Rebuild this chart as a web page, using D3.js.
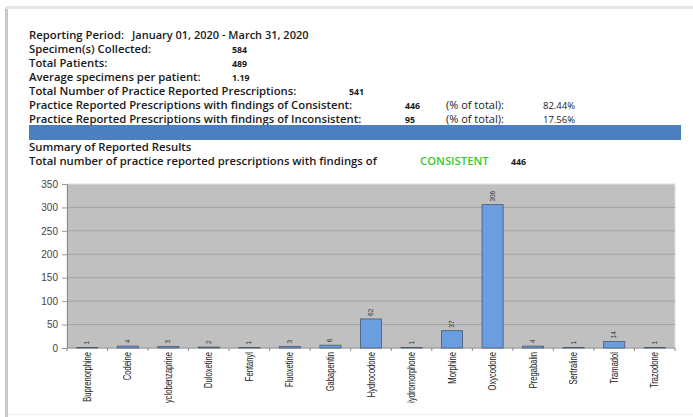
<!DOCTYPE html>
<html>
<head>
<meta charset="utf-8">
<script src="https://cdn.jsdelivr.net/npm/d3@7"></script>
<style>
  body { margin: 0; background: #fff; }
</style>
</head>
<body>
<svg id="chart"></svg>
<script>
const width = 693;
const height = 417;

// header lines
const headerLabels = [
  'Reporting Period:',
  'Specimen(s) Collected:',
  'Total Patients:',
  'Average specimens per patient:',
  'Total Number of Practice Reported Prescriptions:',
  'Practice Reported Prescriptions with findings of Consistent:',
  'Practice Reported Prescriptions with findings of Inconsistent:'
];
const headerValues = ['January 01, 2020 - March 31, 2020', '584', '489', '1.19', '541', '446', '95'];
const pctValues = [null, null, null, null, null, '82.44%', '17.56%'];

const drugs = ['Buprenorphine', 'Codeine', 'Cyclobenzaprine', 'Duloxetine', 'Fentanyl', 'Fluoxetine',
  'Gabapentin', 'Hydrocodone', 'Hydromorphone', 'Morphine', 'Oxycodone', 'Pregabalin',
  'Sertraline', 'Tramadol', 'Trazodone'];
const counts = [1, 4, 3, 2, 1, 3, 6, 62, 1, 37, 306, 4, 1, 14, 1];
const yTicks = [0, 50, 100, 150, 200, 250, 300, 350];

const headFont = '"Open Sans", "Noto Sans", sans-serif';
const chartFont = '"Liberation Sans", Arial, sans-serif';

const svg = d3.select('#chart')
  .attr('width', width)
  .attr('height', height);

// page shadow
svg.append('rect').attr('x', 5).attr('y', 6).attr('width', 3).attr('height', 411).attr('fill', '#c8c8c8');
svg.append('rect').attr('x', 5).attr('y', 6).attr('width', 688).attr('height', 3).attr('fill', '#e6e6e6');
svg.append('rect').attr('x', 8).attr('y', 414).attr('width', 685).attr('height', 1).attr('fill', '#eee');

// header text
const rowY = (i) => 39 + i * 14;
const valX = [132, 232, 232, 232, 349, 405, 405];
const head = svg.append('g')
  .attr('font-family', headFont)
  .attr('font-size', 11.3)
  .attr('fill', '#1a1a1a');
headerLabels.forEach((t, i) => {
  head.append('text').attr('x', 29).attr('y', rowY(i))
    .attr('font-weight', 600)
    .text(t);
  head.append('text').attr('x', valX[i]).attr('y', rowY(i))
    .attr('font-size', i === 0 ? 11 : 8.8)
    .attr('font-weight', i === 0 ? 600 : 700)
    .text(headerValues[i]);
  if (pctValues[i]) {
    head.append('text').attr('x', 446).attr('y', rowY(i)).attr('font-size', 11).text('(% of total):');
    head.append('text').attr('x', 543).attr('y', rowY(i)).attr('font-size', 9.5).text(pctValues[i]);
  }
});

svg.append('rect')
  .attr('x', 29).attr('y', 125).attr('width', 652).attr('height', 15)
  .attr('fill', '#4a80c0');

const summary = svg.append('g')
  .attr('font-family', headFont)
  .attr('font-size', 11.3)
  .attr('font-weight', 600)
  .attr('fill', '#1a1a1a');
summary.append('text').attr('x', 29).attr('y', 151).text('Summary of Reported Results');
summary.append('text').attr('x', 29).attr('y', 165)
  .text('Total number of practice reported prescriptions with findings of');
summary.append('text').attr('x', 420).attr('y', 165).attr('fill', '#33cc33').text('CONSISTENT');
summary.append('text').attr('x', 511).attr('y', 165).attr('font-size', 8.8).attr('font-weight', 700).text(headerValues[5]);

// chart
const plot = { left: 67, right: 675, top: 184, bottom: 348 };
const x = d3.scaleBand().domain(drugs).range([plot.left, plot.right]).paddingInner(0.48).paddingOuter(0.24);
const y = d3.scaleLinear().domain([0, 350]).range([plot.bottom, plot.top]);

svg.append('rect')
  .attr('x', plot.left).attr('y', plot.top)
  .attr('width', plot.right - plot.left).attr('height', plot.bottom - plot.top)
  .attr('fill', '#c0c0c0')
  .attr('stroke', '#e0e0e0');

svg.append('g')
  .selectAll('line')
  .data(yTicks.filter(d => d > 0 && d < 350))
  .enter().append('line')
    .attr('x1', plot.left).attr('x2', plot.right)
    .attr('y1', d => y(d)).attr('y2', d => y(d))
    .attr('stroke', '#a4a4a4');

const yAxis = svg.append('g')
  .attr('transform', `translate(${plot.left},0)`)
  .call(d3.axisLeft(y).tickValues(yTicks).tickSize(5).tickPadding(4));
yAxis.select('.domain').attr('stroke', '#888');
yAxis.selectAll('.tick line').attr('stroke', '#999');
yAxis.selectAll('text')
  .attr('font-family', chartFont)
  .attr('font-size', 10)
  .attr('fill', '#444');

// x axis: ticks between categories
const bounds = d3.range(drugs.length + 1).map(i => plot.left + i * (plot.right - plot.left) / drugs.length);
svg.append('line')
  .attr('x1', plot.left).attr('x2', plot.right)
  .attr('y1', plot.bottom).attr('y2', plot.bottom)
  .attr('stroke', '#888');
svg.append('g').selectAll('line')
  .data(bounds)
  .enter().append('line')
    .attr('x1', d => d).attr('x2', d => d)
    .attr('y1', plot.bottom).attr('y2', plot.bottom + 3)
    .attr('stroke', '#888');

svg.append('defs').append('clipPath').attr('id', 'lab-clip')
  .append('rect').attr('x', 0).attr('y', plot.bottom).attr('width', width).attr('height', 55);

svg.append('g')
  .attr('clip-path', 'url(#lab-clip)')
  .selectAll('text')
  .data(drugs)
  .enter().append('text')
    .attr('transform', d => `translate(${x(d) + x.bandwidth() / 2 + 3.5},${plot.bottom + 4}) rotate(-90) scale(0.76,1)`)
    .attr('text-anchor', 'end')
    .attr('font-family', chartFont)
    .attr('font-size', 10)
    .attr('fill', '#222')
    .text(d => d);

// bars
svg.append('g').selectAll('rect')
  .data(drugs)
  .enter().append('rect')
    .attr('x', d => x(d))
    .attr('y', (d, i) => y(counts[i]))
    .attr('width', x.bandwidth())
    .attr('height', (d, i) => y(0) - y(counts[i]))
    .attr('fill', '#6a9ee0')
    .attr('stroke', '#4a5a70')
    .attr('stroke-width', 0.8);

// value labels
svg.append('g').selectAll('text')
  .data(drugs)
  .enter().append('text')
    .attr('transform', (d, i) => `translate(${x(d) + x.bandwidth() / 2 + 2},${y(counts[i]) - 3}) rotate(-90)`)
    .attr('font-family', chartFont)
    .attr('font-size', 6.5)
    .attr('fill', '#333')
    .text((d, i) => counts[i]);
</script>
</body>
</html>
